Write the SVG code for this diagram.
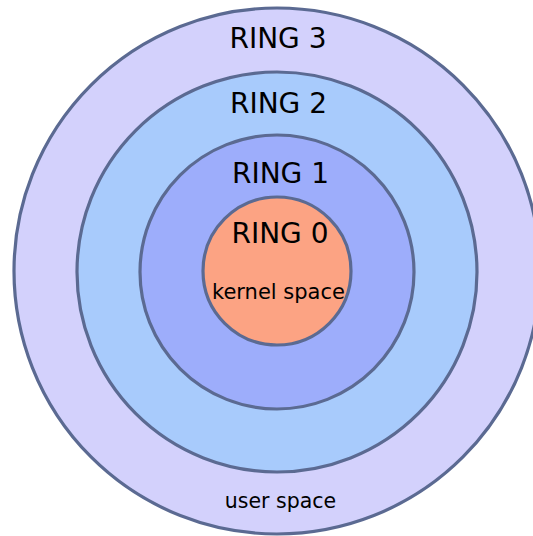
<svg xmlns="http://www.w3.org/2000/svg" width="533" height="536" viewBox="0 0 533 536">
<style>
.ring{stroke:#5b6a92;stroke-width:3.2}
.lbl{font-family:"DejaVu Sans","Liberation Sans",sans-serif;fill:#000;text-anchor:middle}
.big{font-size:28px}
.small{font-size:21px}
</style>
<rect width="533" height="536" fill="#ffffff"/>
<g id="ring3">
<circle class="ring" cx="277" cy="271" r="263" fill="#d3d1fc"/>
<text class="lbl big" x="278" y="47.5">RING 3</text>
<text class="lbl" x="280.5" y="508" font-size="20.5">user space</text>
</g>
<g id="ring2">
<circle class="ring" cx="277" cy="272" r="200" fill="#a8cbfc"/>
<text class="lbl big" x="278.5" y="112.5">RING 2</text>
</g>
<g id="ring1">
<circle class="ring" cx="277" cy="272" r="137" fill="#9dadfb"/>
<text class="lbl big" x="280.5" y="183">RING 1</text>
</g>
<g id="ring0">
<circle class="ring" cx="277" cy="271" r="74" fill="#fca383"/>
<text class="lbl big" x="280" y="243">RING 0</text>
<text class="lbl small" x="278.5" y="299">kernel space</text>
</g>
<g id="connectors"/>
</svg>
